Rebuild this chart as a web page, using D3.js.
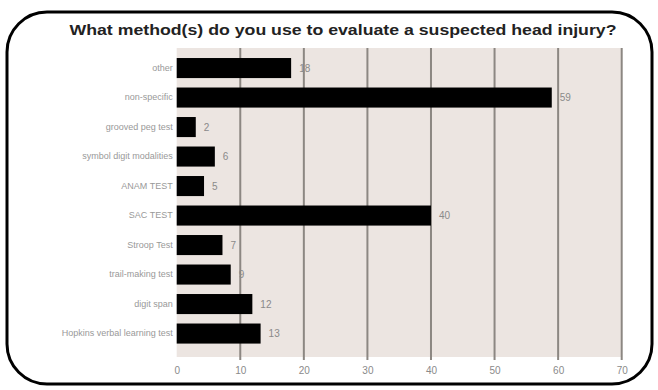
<!DOCTYPE html>
<html><head><meta charset="utf-8">
<script src="https://cdn.jsdelivr.net/npm/d3@7"></script>
<style>body{margin:0;background:#fff;}svg{display:block;}</style>
</head><body>
<svg id="c" width="658" height="390"></svg>
<script>
const title = "What method(s) do you use to evaluate a suspected head injury?";
const categories = ["other","non-specific","grooved peg test","symbol digit modalities","ANAM TEST","SAC TEST","Stroop Test","trail-making test","digit span","Hopkins verbal learning test"];
const values = [18, 59, 3, 6, 4.3, 40, 7.2, 8.5, 11.9, 13.2];
const valueLabels = ["18","59","2","6","5","40","7","9","12","13"];
const xTicks = [0,10,20,30,40,50,60,70];

const svg = d3.select("#c");
const x = d3.scaleLinear().domain([0,70]).range([176.7, 621.7]);
const y = d3.scaleBand().domain(categories).range([53.3, 348.3]).paddingInner(0.32).paddingOuter(0.16);

// frame
svg.append("rect").attr("x",7).attr("y",12).attr("width",645).attr("height",372)
  .attr("rx",40).attr("ry",40).attr("fill","#fff").attr("stroke","#000").attr("stroke-width",3);

// title
svg.append("text").attr("x",343).attr("y",35).attr("text-anchor","middle")
  .attr("font-family","'Liberation Sans',Arial,sans-serif")
  .attr("font-weight","bold").attr("font-size",15).attr("fill","#222")
  .attr("textLength",547).attr("lengthAdjust","spacingAndGlyphs").text(title);

// plot background
svg.append("rect").attr("x",x(0)).attr("y",48).attr("width",x(70)-x(0)).attr("height",309).attr("fill","#ece5e1");

// gridlines
svg.append("g").selectAll("line").data(xTicks.filter(d=>d>0)).join("line")
  .attr("x1",d=>x(d)).attr("x2",d=>x(d)).attr("y1",48).attr("y2",360)
  .attr("stroke","#8c8782").attr("stroke-width",2);

// x axis tick labels
const ax = svg.append("g").attr("transform","translate(0,366)")
  .call(d3.axisBottom(x).tickValues(xTicks).tickSize(0).tickPadding(1));
ax.select(".domain").remove();
ax.selectAll("text").attr("font-family","'Liberation Sans',Arial,sans-serif").attr("font-size",10).attr("fill","#8a8a8a");

// y axis labels
const ay = svg.append("g").attr("transform",`translate(${x(0)-4},0)`)
  .call(d3.axisLeft(y).tickSize(0).tickPadding(0));
ay.select(".domain").remove();
ay.selectAll("text").attr("font-family","'Liberation Sans',Arial,sans-serif").attr("font-size",9).attr("fill","#999");

// bars
svg.append("g").selectAll("rect").data(categories).join("rect")
  .attr("x",x(0)).attr("y",d=>y(d)).attr("height",y.bandwidth())
  .attr("width",(d,i)=>x(values[i])-x(0)).attr("fill","#000");

// value labels
svg.append("g").selectAll("text").data(categories).join("text")
  .attr("x",(d,i)=>x(values[i])+8).attr("y",d=>y(d)+y.bandwidth()/2).attr("dy","0.35em")
  .attr("font-family","'Liberation Sans',Arial,sans-serif").attr("font-size",10).attr("fill","#8a8a8a")
  .text((d,i)=>valueLabels[i]);
</script>
</body></html>
